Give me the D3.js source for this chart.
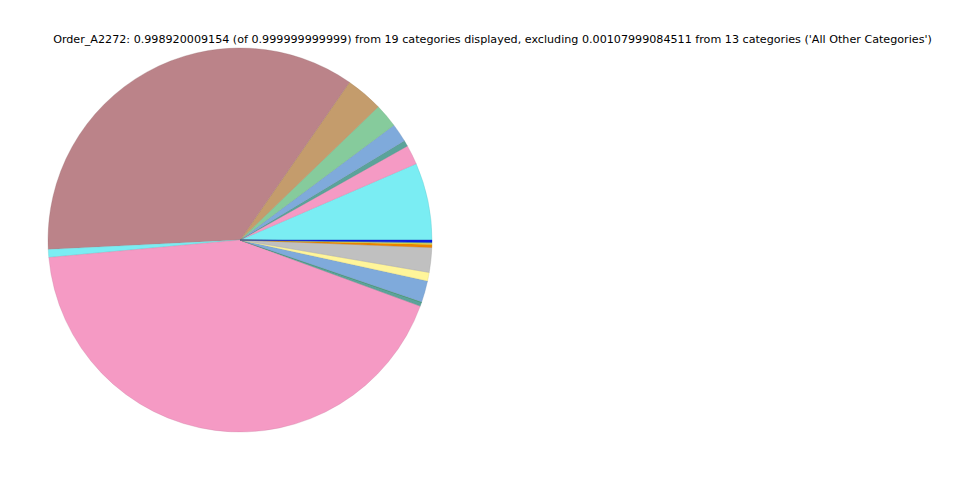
<!DOCTYPE html>
<html>
<head>
<meta charset="utf-8">
<script src="https://cdn.jsdelivr.net/npm/d3@7"></script>
<style>
  html, body { margin: 0; padding: 0; background: #ffffff; }
  svg { display: block; }
</style>
</head>
<body>
<svg id="chart" width="960" height="480"></svg>
<script>
const titleText = "Order_A2272: 0.998920009154 (of 0.999999999999) from 19 categories displayed, excluding 0.00107999084511 from 13 categories ('All Other Categories')";
const categories = ["C01","C02","C03","C04","C05","C06","C07","C08","C09","C10","C11","C12","C13","C14","C15","C16","C17","C18","C19"];
const values = [0.0650,0.0164,0.0050,0.0156,0.0200,0.0314,0.3542,0.0067,0.4293,0.0033,0.0003,0.0181,0.0072,0.0208,0.0025,0.0011,0.0004,0.0003,0.0019];
const colors = ["#7aedf3","#f59ac4","#5ba39a","#7faadb","#86cb9c","#c49c6c","#bb8389","#7aedf3","#f59ac4","#5ba39a","#3cb44b","#7faadb","#fff59a","#c0c0c0","#ee8500","#e8e030","#aac4d8","#5ba39a","#0a1ee8"];

const svg = d3.select("#chart");
const cx = 240, cy = 240, r = 192;

svg.append("text")
  .attr("x", 492.5).attr("y", 43)
  .attr("text-anchor", "middle")
  .attr("font-family", "DejaVu Sans, sans-serif")
  .attr("font-size", 11.15)
  .attr("fill", "#000")
  .text(titleText);

const data = categories.map((c, i) => ({cat: c, value: values[i], color: colors[i]}));
const pie = d3.pie().value(d => d.value).sort(null)
  .startAngle(Math.PI / 2).endAngle(Math.PI / 2 - 2 * Math.PI);
const arc = d3.arc().innerRadius(0).outerRadius(r);

svg.append("g").attr("transform", `translate(${cx},${cy})`)
  .selectAll("path").data(pie(data)).join("path")
  .attr("d", arc)
  .attr("fill", d => d.data.color)
  .attr("stroke", d => d3.color(d.data.color).darker(0.6))
  .attr("stroke-width", 0.5)
  .attr("stroke-opacity", 0.6);
</script>
</body>
</html>
